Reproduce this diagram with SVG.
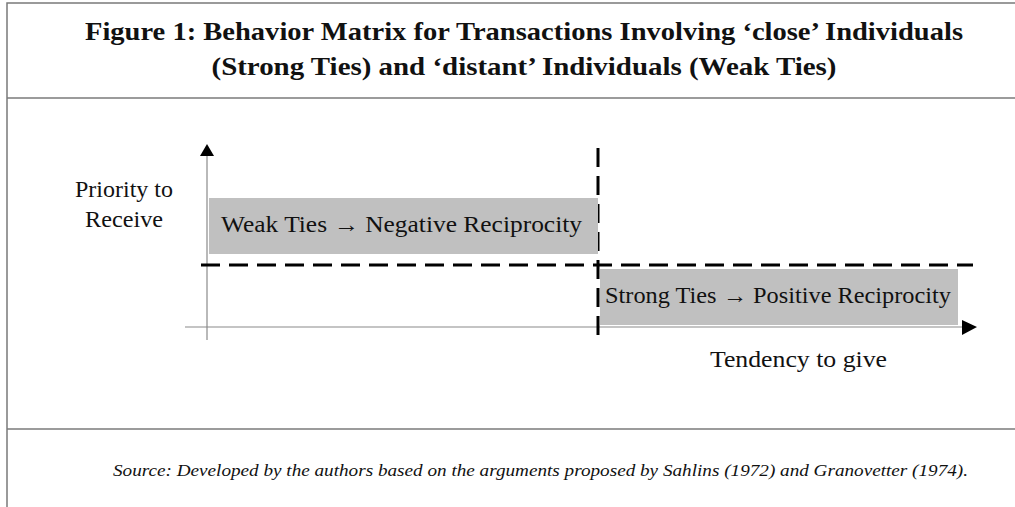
<svg xmlns="http://www.w3.org/2000/svg" width="1015" height="507" viewBox="0 0 1015 507">
<defs>
<style>
.frame{stroke:#7a7a7a;stroke-width:1.5;fill:none}
.axis{stroke:#8a8a8a;stroke-width:1.2;fill:none}
.dash{stroke:#000;stroke-width:3;stroke-dasharray:19 9;fill:none}
.box{fill:#c0c0c0}
.t{font-family:"Liberation Serif","Times New Roman",serif;fill:#111}
.title{font-size:26px;font-weight:bold;text-anchor:middle}
.lab{font-size:23px}
.src{font-size:17px;font-style:italic}
</style>
</defs>
<rect width="1015" height="507" fill="#fff"/>
<g id="frame">
<path class="frame" d="M7,507 V3 H1015"/>
<path class="frame" d="M7,98 H1015"/>
<path class="frame" d="M7,429 H1015"/>
</g>
<g id="title">
<text class="t title" x="524" y="40" textLength="878" lengthAdjust="spacingAndGlyphs">Figure 1: Behavior Matrix for Transactions Involving ‘close’ Individuals</text>
<text class="t title" x="524" y="75" textLength="625" lengthAdjust="spacingAndGlyphs">(Strong Ties) and ‘distant’ Individuals (Weak Ties)</text>
</g>
<g id="connectors">
<line class="axis" x1="207" y1="154" x2="207" y2="340"/>
<polygon points="207,144 200,156 214,156" fill="#000"/>
<line class="axis" x1="185" y1="327" x2="964" y2="327"/>
<polygon points="977,327 962,320 962,335" fill="#000"/>
<line class="dash" x1="201" y1="265" x2="973" y2="265"/>
<line class="dash" x1="598" y1="148" x2="598" y2="342"/>
</g>
<g id="weak">
<rect class="box" x="209" y="198" width="389" height="56"/>
<text class="t lab" x="221" y="232" textLength="361" lengthAdjust="spacingAndGlyphs">Weak Ties → Negative Reciprocity</text>
</g>
<g id="strong">
<rect class="box" x="600" y="269" width="358" height="56"/>
<text class="t lab" x="605" y="303" textLength="346" lengthAdjust="spacingAndGlyphs">Strong Ties → Positive Reciprocity</text>
</g>
<g id="ylabel">
<text class="t lab" x="124" y="197" text-anchor="middle" textLength="98" lengthAdjust="spacingAndGlyphs">Priority to</text>
<text class="t lab" x="124" y="227" text-anchor="middle" textLength="78" lengthAdjust="spacingAndGlyphs">Receive</text>
</g>
<g id="xlabel">
<text class="t lab" x="710" y="367" textLength="177" lengthAdjust="spacingAndGlyphs">Tendency to give</text>
</g>
<g id="source">
<text class="t src" x="113" y="476" textLength="855" lengthAdjust="spacingAndGlyphs">Source: Developed by the authors based on the arguments proposed by Sahlins (1972) and Granovetter (1974).</text>
</g>
</svg>
